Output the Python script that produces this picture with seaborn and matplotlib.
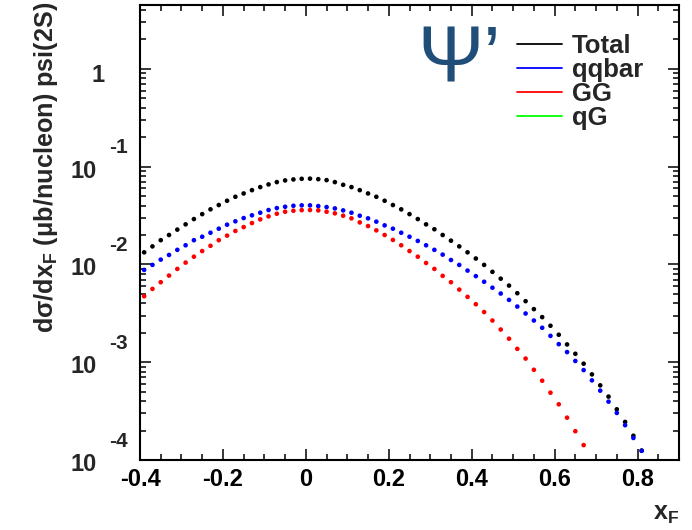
import matplotlib
matplotlib.use("Agg")
import matplotlib.pyplot as plt
from matplotlib import ticker, transforms
from matplotlib.lines import Line2D
import pandas as pd
import seaborn as sns

# Feynman-x bin centres (bin width 0.02)
xf = [-0.39, -0.37, -0.35, -0.33, -0.31, -0.29, -0.27, -0.25, -0.23, -0.21,
      -0.19, -0.17, -0.15, -0.13, -0.11, -0.09, -0.07, -0.05, -0.03, -0.01,
      0.01, 0.03, 0.05, 0.07, 0.09, 0.11, 0.13, 0.15, 0.17, 0.19,
      0.21, 0.23, 0.25, 0.27, 0.29, 0.31, 0.33, 0.35, 0.37, 0.39,
      0.41, 0.43, 0.45, 0.47, 0.49, 0.51, 0.53, 0.55, 0.57, 0.59,
      0.61, 0.63, 0.65, 0.67, 0.69, 0.71, 0.73, 0.75, 0.77, 0.79, 0.81]

# dsigma/dxF (ub/nucleon) for psi(2S)
total = [0.0133, 0.0153, 0.0177, 0.0200, 0.0227, 0.0257, 0.0291, 0.0327, 0.0366, 0.0405,
         0.0448, 0.0492, 0.0532, 0.0575, 0.0618, 0.0658, 0.0695, 0.0723, 0.0740, 0.0751,
         0.0754, 0.0745, 0.0728, 0.0695, 0.0652, 0.0618, 0.0575, 0.0532, 0.0492, 0.0448,
         0.0405, 0.0366, 0.0327, 0.0291, 0.0257, 0.0229, 0.0200, 0.0175, 0.0153, 0.0133,
         0.0115, 0.00989, 0.00840, 0.00715, 0.00608, 0.00508, 0.00421, 0.00349, 0.00289, 0.00236,
         0.00191, 0.00152, 0.00122, 0.000966, 0.000751, 0.000580, 0.000445, 0.000330, 0.000245,
         0.000177, 0.000125]

qqbar = [0.00879, 0.00989, 0.0112, 0.0125, 0.0141, 0.0157, 0.0177, 0.0192, 0.0211, 0.0232,
         0.0255, 0.0276, 0.0298, 0.0318, 0.0338, 0.0360, 0.0377, 0.0389, 0.0398, 0.0402,
         0.0402, 0.0395, 0.0386, 0.0374, 0.0357, 0.0338, 0.0315, 0.0296, 0.0274, 0.0251,
         0.0232, 0.0211, 0.0192, 0.0174, 0.0157, 0.0141, 0.0126, 0.0111, 0.00989, 0.00865,
         0.00759, 0.00665, 0.00578, 0.00504, 0.00434, 0.00371, 0.00315, 0.00267, 0.00225, 0.00186,
         0.00153, 0.00127, 0.00103, 0.000831, 0.000652, 0.000512, 0.000395, 0.000303, 0.000227,
         0.000168, 0.000124]

gg = [0.00473, 0.00562, 0.00658, 0.00769, 0.00900, 0.01044, 0.0120, 0.0137, 0.0155, 0.0177,
      0.0197, 0.0220, 0.0241, 0.0265, 0.0289, 0.0310, 0.0330, 0.0346, 0.0354, 0.0359,
      0.0360, 0.0357, 0.0346, 0.0333, 0.0315, 0.0296, 0.0269, 0.0247, 0.0223, 0.0200,
      0.0178, 0.0157, 0.0137, 0.0120, 0.01035, 0.00900, 0.00764, 0.00658, 0.00553, 0.00466,
      0.00392, 0.00326, 0.00267, 0.00216, 0.00174, 0.00137, 0.00109, 0.000837, 0.000647, 0.000488,
      0.000371, 0.000271, 0.000197, 0.000142]

series_names = ["Total", "qqbar", "GG", "qG"]
series_colors = ["#000000", "#0000ff", "#ff0000", "#00ff00"]

x_ticks = [-0.4, -0.2, 0.0, 0.2, 0.4, 0.6, 0.8]
x_tick_labels = ["-0.4", "-0.2", "0", "0.2", "0.4", "0.6", "0.8"]
y_decades = [-4, -3, -2, -1, 0]

sns.set_style("ticks")
plt.rcParams.update({
    "font.family": ["Liberation Sans", "DejaVu Sans"],
    "font.weight": "bold",
    "axes.unicode_minus": False,
    "mathtext.fontset": "custom",
    "mathtext.rm": "Liberation Sans:bold",
    "mathtext.it": "Liberation Sans:bold",
    "mathtext.bf": "Liberation Sans:bold",
})

df = pd.concat([
    pd.DataFrame({"xF": xf, "dsigma": total, "process": "Total"}),
    pd.DataFrame({"xF": xf, "dsigma": qqbar, "process": "qqbar"}),
    pd.DataFrame({"xF": xf[:len(gg)], "dsigma": gg, "process": "GG"}),
], ignore_index=True)

fig = plt.figure(figsize=(6.92, 5.30), dpi=100)
ax = fig.add_axes([140 / 692, 1 - 460 / 530, 539 / 692, 455 / 530])

sns.scatterplot(data=df, x="xF", y="dsigma", hue="process",
                hue_order=series_names[:3],
                palette=dict(zip(series_names, series_colors)),
                s=11, linewidth=0, legend=False, ax=ax)

ax.set_yscale("log")
ax.set_xlim(-0.4, 0.9)
ax.set_ylim(1e-4, 4.5)

# x axis ticks
ax.xaxis.set_major_locator(ticker.FixedLocator(x_ticks))
ax.xaxis.set_minor_locator(ticker.MultipleLocator(0.05))
ax.set_xticklabels(x_tick_labels, fontsize=17, fontweight="bold")

# y axis ticks (labels drawn ROOT-style below)
ax.yaxis.set_major_locator(ticker.LogLocator(base=10, numticks=12))
ax.yaxis.set_minor_locator(ticker.LogLocator(base=10, subs=range(2, 10), numticks=12))
ax.yaxis.set_major_formatter(ticker.NullFormatter())
ax.yaxis.set_minor_formatter(ticker.NullFormatter())

ax.tick_params(which="both", direction="in", top=True, right=True, width=1.1,
               colors="black")
ax.tick_params(which="major", length=8)
ax.tick_params(which="minor", length=4.3)
ax.tick_params(axis="x", which="major", pad=6)
for sp in ax.spines.values():
    sp.set_linewidth(1.5)
    sp.set_color("black")

blend = transforms.blended_transform_factory(ax.transAxes, ax.transData)
for e in y_decades:
    if e == 0:
        ax.annotate("1", xy=(-0.065, 1.0), xycoords=blend, xytext=(0, -9.4),
                    textcoords="offset points", ha="right", va="baseline",
                    fontsize=17, fontweight="bold")
    else:
        ax.annotate("10", xy=(-0.080, 10.0 ** e), xycoords=blend, xytext=(0, -7.9),
                    textcoords="offset points", ha="right", va="baseline",
                    fontsize=17, fontweight="bold")
        ax.annotate(f"{e}", xy=(-0.0575, 10.0 ** e), xycoords=blend, xytext=(0, 9.7),
                    textcoords="offset points", ha="left", va="baseline",
                    fontsize=15, fontweight="bold")

ax.set_ylabel("dσ/dx$_\\mathregular{F}$ (μb/nucleon) psi(2S)", loc="top",
              fontsize=18.2, fontweight="bold")
ax.yaxis.set_label_coords(-0.148, 1.008)
ax.set_xlabel("x$_\\mathregular{F}$", loc="right", fontsize=18, fontweight="bold",
              labelpad=8)

# Psi' tag
fig.text(417 / 692, 1 - 82 / 530, "Ψ’", fontsize=57, color="#1f4e79",
         family="Liberation Sans", fontweight="normal", ha="left", va="baseline")

handles = [Line2D([], [], color=c, lw=1.3) for c in series_colors]
ax.legend(handles, series_names, loc="upper left",
          bbox_to_anchor=(517 / 692, 1 - 34 / 530), bbox_transform=fig.transFigure,
          frameon=False, prop={"family": "Liberation Sans", "weight": "bold", "size": 18.5},
          handlelength=1.75, handletextpad=0.4, labelspacing=0.0,
          borderpad=0, borderaxespad=0)

fig.savefig("out.png", dpi=100)
